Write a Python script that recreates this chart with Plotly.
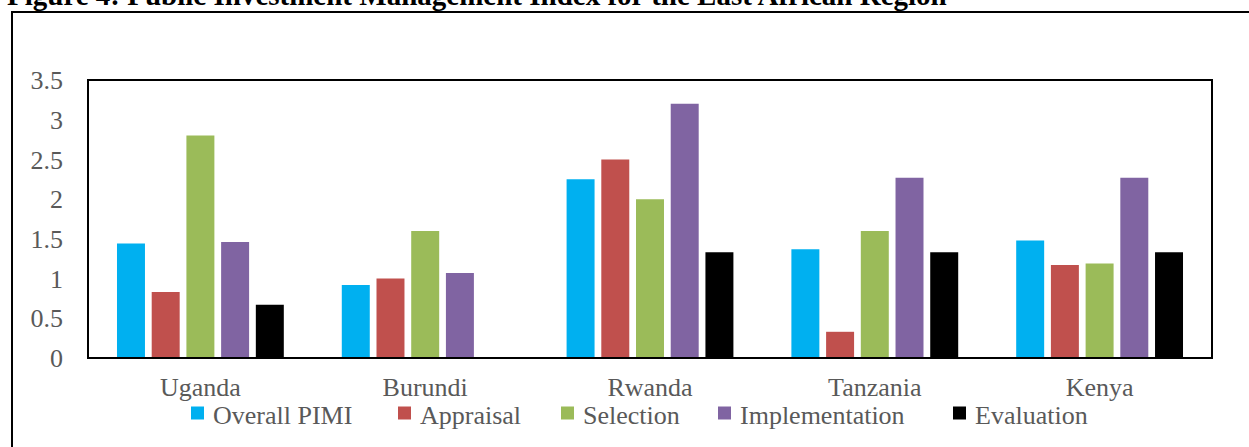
import plotly.graph_objects as go

# Country groups on the x axis
countries = ["Uganda", "Burundi", "Rwanda", "Tanzania", "Kenya"]

# PIMI component scores per country
overall_pimi = [1.44, 0.92, 2.25, 1.37, 1.48]
appraisal = [0.83, 1.00, 2.50, 0.33, 1.17]
selection = [2.80, 1.60, 2.00, 1.60, 1.19]
implementation = [1.46, 1.07, 3.20, 2.27, 2.27]
evaluation = [0.67, 0.00, 1.33, 1.33, 1.33]

series_names = ["Overall PIMI", "Appraisal", "Selection", "Implementation", "Evaluation"]
series_values = [overall_pimi, appraisal, selection, implementation, evaluation]
series_colors = ["#00B0F0", "#C0504D", "#9BBB59", "#8064A2", "#000000"]

y_ticks = [0, 0.5, 1, 1.5, 2, 2.5, 3, 3.5]
y_tick_text = ["0", "0.5", "1", "1.5", "2", "2.5", "3", "3.5"]

# Canvas and plot-area geometry (pixels)
W, H = 1249, 447
L, R, T, B = 88, 37, 80, 89
pw, ph = W - L - R, H - T - B

# Left edge of each legend swatch (pixels)
legend_left = [191, 398, 561, 718, 953]
legend_y = 413
swatch = 13


def px(x):
    return (x - L) / pw


def py(y):
    return (H - B - y) / ph


FONT = "Liberation Serif"
GREY = "#595959"
FS = 26

fig = go.Figure()
for name, vals, color in zip(series_names, series_values, series_colors):
    fig.add_trace(go.Bar(name=name, x=countries, y=vals, marker_color=color,
                         marker_line_width=0))

fig.update_layout(
    width=W, height=H,
    margin=dict(l=L, r=R, t=T, b=B, autoexpand=False),
    paper_bgcolor="white", plot_bgcolor="white",
    barmode="group", bargap=0.228, bargroupgap=0.194,
    font=dict(family=FONT, size=FS, color=GREY),
    showlegend=False,
    xaxis=dict(showgrid=False, showline=False, ticks="", zeroline=False,
               automargin=False, tickangle=0,
               tickfont=dict(family=FONT, size=FS, color=GREY),
               ticklabelstandoff=11),
    yaxis=dict(range=[0, 3.5], tickvals=y_ticks, ticktext=y_tick_text,
               showgrid=False, showline=False, zeroline=False, ticks="",
               automargin=False,
               tickfont=dict(family=FONT, size=FS, color=GREY),
               ticklabelstandoff=24),
)

# Plot frame and light zero line
fig.add_shape(type="line", xref="paper", yref="y", x0=0, x1=1, y0=0, y1=0,
              line=dict(color="#BFBFBF", width=1))
fig.add_shape(type="rect", xref="paper", yref="paper", x0=0, x1=1, y0=0, y1=1,
              line=dict(color="black", width=2))

# Outer chart border
fig.add_shape(type="rect", xref="paper", yref="paper",
              x0=px(12), x1=px(1262), y0=py(460), y1=py(12),
              line=dict(color="black", width=2))

# Legend: coloured swatch followed by the series name
for name, color, x0 in zip(series_names, series_colors, legend_left):
    fig.add_shape(type="rect", xref="paper", yref="paper",
                  x0=px(x0), x1=px(x0 + swatch),
                  y0=py(legend_y + swatch / 2), y1=py(legend_y - swatch / 2),
                  fillcolor=color, line=dict(width=0))
    fig.add_annotation(text=name, xref="paper", yref="paper",
                       x=px(x0 + swatch + 8), y=py(legend_y + 2),
                       xanchor="left", yanchor="middle", showarrow=False,
                       borderpad=0,
                       font=dict(family=FONT, size=FS, color=GREY))

# Figure caption above the chart
fig.add_annotation(
    text="<b>Figure 4: Public Investment Management Index for the East African Region</b>",
    xref="paper", yref="paper", x=px(6), y=py(-5), xanchor="left", yanchor="middle",
    showarrow=False, borderpad=0, font=dict(family=FONT, size=29, color="black"),
)

fig.write_html("out.html")
